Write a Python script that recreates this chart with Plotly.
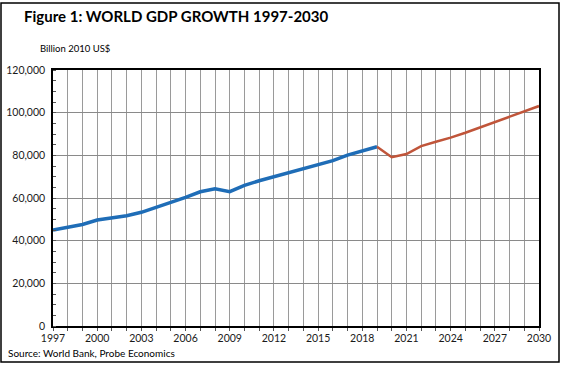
import plotly.graph_objects as go

hist_years = list(range(1997, 2020))
hist_gdp = [45000, 46200, 47600, 49700, 50600, 51700, 53300, 55500, 57800, 60300,
            62900, 64300, 63000, 65900, 68100, 70000, 71600, 73600, 75600, 77500,
            80100, 82200, 84000]
fc_years = list(range(2019, 2031))
fc_gdp = [84000, 79100, 80600, 84300, 86400, 88300, 90600, 93100, 95500, 98100,
          100600, 103100]
x_ticks = list(range(1997, 2031, 3))
y_ticks = list(range(0, 120001, 20000))

FONT = "Lato"

fig = go.Figure()
fig.add_trace(go.Scatter(x=hist_years, y=hist_gdp, mode="lines",
                         line=dict(color="#1f6db7", width=3.5), showlegend=False))
fig.add_trace(go.Scatter(x=fc_years, y=fc_gdp, mode="lines",
                         line=dict(color="#c0553a", width=2.5), showlegend=False))

fig.update_layout(
    width=562, height=366,
    margin=dict(l=53, r=23, t=70, b=40, autoexpand=False),
    paper_bgcolor="white", plot_bgcolor="white",
    font=dict(family=FONT, size=10.5, color="#1a1a1a"),
    xaxis=dict(range=[1997, 2030], tickvals=x_ticks, showgrid=True, automargin=False,
               gridcolor="#9a9a9a", gridwidth=1,
               showline=True, linecolor="black", linewidth=1.5, mirror=True,
               ticks="", tickfont=dict(size=10.5, family=FONT), ticklabelstandoff=2,
               minor=dict(dtick=1, showgrid=True, gridcolor="#9a9a9a", gridwidth=1,
                          ticks="outside", ticklen=3, tickcolor="#555"),
               zeroline=False),
    yaxis=dict(range=[0, 120000], tickvals=y_ticks, tickformat=",", automargin=False,
               showgrid=True, gridcolor="#8a8a8a", gridwidth=1,
               showline=True, linecolor="black", linewidth=1.5, mirror=True,
               ticks="", tickfont=dict(size=10.5, family=FONT), ticklabelstandoff=4,
               minor=dict(dtick=5000, ticks="inside", ticklen=3, tickcolor="#555",
                          showgrid=False),
               zeroline=False),
    shapes=[dict(type="rect", xref="paper", yref="paper",
                 x0=-52/486, x1=(559-53)/486, y0=-(362-326)/256, y1=(326-3)/256,
                 line=dict(color="black", width=1.5), fillcolor="rgba(0,0,0,0)",
                 layer="below")],
    annotations=[
        dict(text="<b>Figure 1: WORLD GDP GROWTH 1997-2030</b>", xref="paper", yref="paper",
             x=(22-53)/486, y=(326-16)/256, xanchor="left", yanchor="middle",
             showarrow=False, font=dict(size=15, family=FONT, color="black")),
        dict(text="Billion 2010 US$", xref="paper", yref="paper",
             x=(38-53)/486, y=(326-48)/256, xanchor="left", yanchor="middle",
             showarrow=False, font=dict(size=9.5, family=FONT, color="black")),
        dict(text="Source: World Bank, Probe Economics", xref="paper", yref="paper",
             x=(6-53)/486, y=-(353-326)/256, xanchor="left", yanchor="middle",
             showarrow=False, font=dict(size=10, family=FONT, color="black")),
    ],
)

fig.write_html("out.html", config={"displayModeBar": False},
               post_script="document.body.style.margin='0';document.body.style.overflow='hidden';")
